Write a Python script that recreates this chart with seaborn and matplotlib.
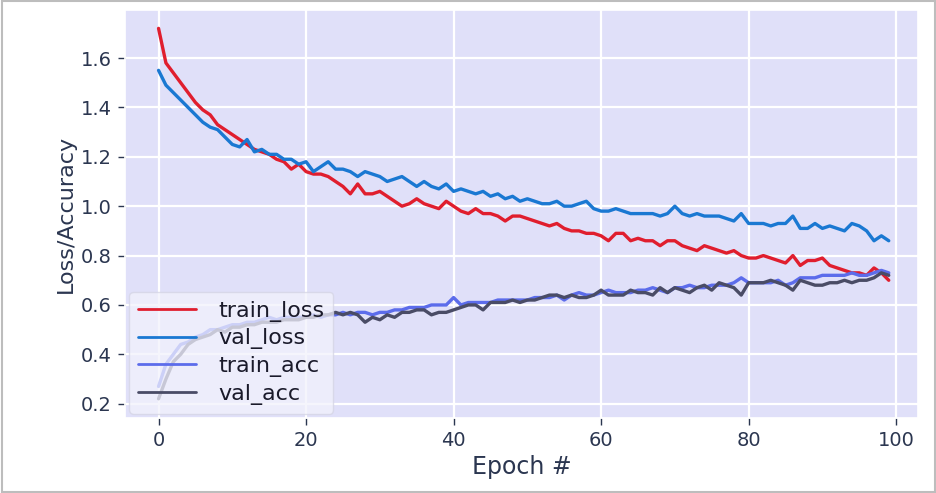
import matplotlib
matplotlib.use("Agg")
import matplotlib.pyplot as plt
import numpy as np
import seaborn as sns
from matplotlib.patches import Rectangle

sns.set_theme(style="darkgrid", rc={
    "axes.facecolor": "#e0e0f9",
    "grid.color": "white",
    "grid.linewidth": 1.6,
    "xtick.bottom": True,
    "ytick.left": True,
})

# training history
train_loss = [1.72, 1.58, 1.54, 1.50, 1.46, 1.42, 1.39, 1.37, 1.33, 1.31,
              1.29, 1.27, 1.25, 1.23, 1.22, 1.21, 1.19, 1.18, 1.15, 1.17,
              1.14, 1.13, 1.13, 1.12, 1.10, 1.08, 1.05, 1.09, 1.05, 1.05,
              1.06, 1.04, 1.02, 1.00, 1.01, 1.03, 1.01, 1.00, 0.99, 1.02,
              1.00, 0.98, 0.97, 0.99, 0.97, 0.97, 0.96, 0.94, 0.96, 0.96,
              0.95, 0.94, 0.93, 0.92, 0.93, 0.91, 0.90, 0.90, 0.89, 0.89,
              0.88, 0.86, 0.89, 0.89, 0.86, 0.87, 0.86, 0.86, 0.84, 0.86,
              0.86, 0.84, 0.83, 0.82, 0.84, 0.83, 0.82, 0.81, 0.82, 0.80,
              0.79, 0.79, 0.80, 0.79, 0.78, 0.77, 0.80, 0.76, 0.78, 0.78,
              0.79, 0.76, 0.75, 0.74, 0.73, 0.73, 0.72, 0.75, 0.73, 0.70]
val_loss = [1.55, 1.49, 1.46, 1.43, 1.40, 1.37, 1.34, 1.32, 1.31, 1.28,
            1.25, 1.24, 1.27, 1.22, 1.23, 1.21, 1.21, 1.19, 1.19, 1.17,
            1.18, 1.14, 1.16, 1.18, 1.15, 1.15, 1.14, 1.12, 1.14, 1.13,
            1.12, 1.10, 1.11, 1.12, 1.10, 1.08, 1.10, 1.08, 1.07, 1.09,
            1.06, 1.07, 1.06, 1.05, 1.06, 1.04, 1.05, 1.03, 1.04, 1.02,
            1.03, 1.02, 1.01, 1.01, 1.02, 1.00, 1.00, 1.01, 1.02, 0.99,
            0.98, 0.98, 0.99, 0.98, 0.97, 0.97, 0.97, 0.97, 0.96, 0.97,
            1.00, 0.97, 0.96, 0.97, 0.96, 0.96, 0.96, 0.95, 0.94, 0.97,
            0.93, 0.93, 0.93, 0.92, 0.93, 0.93, 0.96, 0.91, 0.91, 0.93,
            0.91, 0.92, 0.91, 0.90, 0.93, 0.92, 0.90, 0.86, 0.88, 0.86]
train_acc = [0.27, 0.36, 0.40, 0.44, 0.45, 0.47, 0.48, 0.50, 0.50, 0.51,
             0.52, 0.52, 0.53, 0.53, 0.54, 0.55, 0.54, 0.55, 0.55, 0.55,
             0.55, 0.56, 0.55, 0.56, 0.56, 0.57, 0.56, 0.57, 0.57, 0.56,
             0.57, 0.57, 0.58, 0.58, 0.59, 0.59, 0.59, 0.60, 0.60, 0.60,
             0.63, 0.60, 0.61, 0.61, 0.61, 0.61, 0.62, 0.62, 0.62, 0.62,
             0.62, 0.63, 0.63, 0.63, 0.64, 0.62, 0.64, 0.65, 0.64, 0.64,
             0.65, 0.66, 0.65, 0.65, 0.65, 0.66, 0.66, 0.67, 0.66, 0.65,
             0.67, 0.67, 0.68, 0.67, 0.67, 0.68, 0.68, 0.68, 0.69, 0.71,
             0.69, 0.69, 0.69, 0.69, 0.70, 0.68, 0.69, 0.71, 0.71, 0.71,
             0.72, 0.72, 0.72, 0.72, 0.73, 0.72, 0.72, 0.73, 0.74, 0.73]
val_acc = [0.22, 0.30, 0.37, 0.40, 0.44, 0.46, 0.47, 0.48, 0.50, 0.49,
           0.51, 0.51, 0.52, 0.52, 0.53, 0.53, 0.53, 0.54, 0.54, 0.54,
           0.55, 0.55, 0.56, 0.56, 0.57, 0.56, 0.57, 0.56, 0.53, 0.55,
           0.54, 0.56, 0.55, 0.57, 0.57, 0.58, 0.58, 0.56, 0.57, 0.57,
           0.58, 0.59, 0.60, 0.60, 0.58, 0.61, 0.61, 0.61, 0.62, 0.61,
           0.62, 0.62, 0.63, 0.64, 0.64, 0.63, 0.64, 0.63, 0.63, 0.64,
           0.66, 0.64, 0.64, 0.64, 0.66, 0.65, 0.65, 0.64, 0.67, 0.65,
           0.67, 0.66, 0.65, 0.67, 0.68, 0.66, 0.69, 0.68, 0.67, 0.64,
           0.69, 0.69, 0.69, 0.70, 0.69, 0.68, 0.66, 0.70, 0.69, 0.68,
           0.68, 0.69, 0.69, 0.70, 0.69, 0.70, 0.70, 0.71, 0.73, 0.72]
epochs = np.arange(len(train_loss))

series = [
    ("train_loss", train_loss, "#e01e2e"),
    ("val_loss", val_loss, "#1a78d2"),
    ("train_acc", train_acc, "#5c6ceb"),
    ("val_acc", val_acc, "#4a4c66"),
]

fig = plt.figure(figsize=(9.37, 4.93), dpi=100)
ax = fig.add_axes([0.133, 0.152, 0.847, 0.828])

for name, vals, col in series:
    sns.lineplot(x=epochs, y=vals, ax=ax, color=col, linewidth=2.4, label=name)

ax.set_xlim(-4.6, 103)
ax.set_ylim(0.142, 1.795)
ax.set_xticks([0, 20, 40, 60, 80, 100])
ax.set_yticks([0.2, 0.4, 0.6, 0.8, 1.0, 1.2, 1.4, 1.6])
ax.tick_params(axis="both", labelsize=14, colors="#2b3650", length=5,
               width=1, direction="out", pad=4)
ax.set_xlabel("Epoch #", fontsize=17, color="#2b3650")
ax.set_ylabel("Loss/Accuracy", fontsize=16, color="#2b3650")

leg = ax.legend(loc="lower left", fontsize=16, frameon=True,
                facecolor="#f2f2fc", framealpha=0.75, edgecolor="#d4d4e4",
                borderaxespad=0.2, handlelength=2.6, labelspacing=0.3,
                handletextpad=1.0)
for line in leg.get_lines():
    line.set_linewidth(2.0)
for t in leg.get_texts():
    t.set_color("#1a1a2a")

# thin grey frame round the whole picture
fig.patches.append(Rectangle((0.002, 0.003), 0.996, 0.994, transform=fig.transFigure,
                             fill=False, edgecolor="#bdbdbd", linewidth=1.5))

fig.savefig("out.png", dpi=100)
